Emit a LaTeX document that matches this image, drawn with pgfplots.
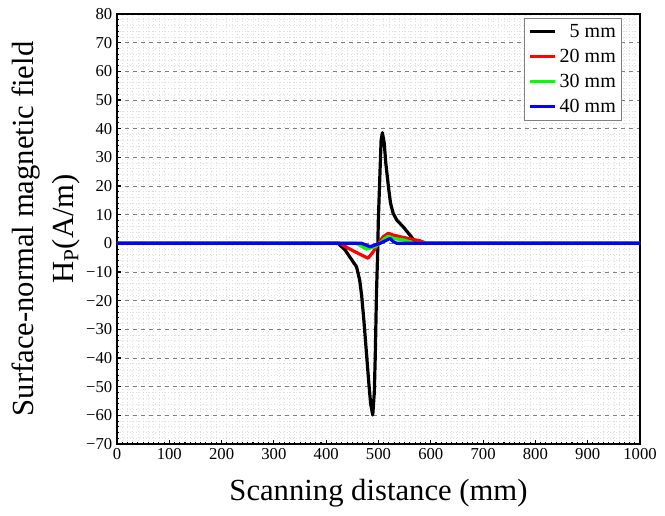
\documentclass[border=0pt]{standalone}
\usepackage{fontspec}
\setmainfont{Liberation Serif}
\usepackage{pgfplots}
\pgfplotsset{compat=1.18}
\begin{document}
\begin{tikzpicture}
\path[use as bounding box] (-87.75pt,-54pt) rectangle (411pt,333pt);
\begin{axis}[
  at={(0,0)}, anchor=south west,
  scale only axis, width=392.25pt, height=322.5pt,
  xmin=0, xmax=1000, ymin=-70, ymax=80,
  xtick={0,100,...,1000},
  ytick={-70,-60,...,80},
  yticklabels={−70,−60,−50,−40,−30,−20,−10,0,10,20,30,40,50,60,70,80},
  /pgf/number format/1000 sep={},
  minor x tick num=9, minor y tick num=4,
  tick align=inside, xtick pos=bottom, ytick pos=left,
  major tick length=3pt, minor tick length=1.8pt,
  every tick/.style={black, line width=0.8pt},
  axis line style={line width=1.3pt},
  ymajorgrids, xminorgrids, yminorgrids,
  major grid style={gray, dashed, line width=0.5pt},
  minor grid style={gray!25, dotted, line width=0.5pt},
  /pgf/number format/assume math mode=true,
  ticklabel style={font=\fontsize{12.5}{14}\selectfont},
  xlabel={Scanning distance (mm)},
  ylabel={Surface-normal magnetic field\\H\textsubscript{P}(A/m)},
  xlabel style={font=\fontsize{23}{26}\selectfont, at={(axis description cs:0.5,-0.114)}, anchor=center},
  ylabel style={font=\fontsize{23}{30}\selectfont, align=center, at={(axis description cs:-0.136,0.5)}, anchor=center},
  legend style={at={(0.966,0.991)}, anchor=north east, draw=gray, line width=0.6pt,
    font=\fontsize{15}{18}\selectfont, row sep=3.2pt, inner sep=2.5pt},
  legend cell align=right,
  legend image code/.code={\draw[#1] (0cm,0cm) -- (0.68cm,0cm);},
  every axis plot/.append style={line width=2.4pt, line join=round},
]
\addplot[black] coordinates {
(0,0) (423,0) (436,-2.3) (449,-5.8) (458,-8.2) (464,-12.8) (468,-18.6) (472,-26.8)
(476,-36) (481,-47.7) (485,-56) (489,-59.9) (492,-52) (494,-38) (496,-18.6) (498.5,-2.3)
(499.7,8.1) (503,25.6) (505,36) (507.5,38.6) (511,34.9) (514,27.9) (519,19.7) (523,14)
(528,10.5) (535,8.1) (547,5.8) (560,2.9) (570,0.6) (576,0) (1000,0)};
\addlegendentry{5 mm}
\addplot[red] coordinates {
(0,0) (426,0) (442,-1.7) (461,-3.5) (480,-5.2) (490,-2.9) (500,0) (509,2.3) (519,3.5)
(528,2.9) (541,2.3) (557,1.7) (579,0.9) (592,0) (1000,0)};
\addlegendentry{20 mm}
\addplot[green] coordinates {
(0,0) (458,0) (477,-2.0) (493,-1.2) (502,0) (512,1.7) (519,2.5) (528,1.7) (547,1.2)
(565,0.2) (567,0) (1000,0)};
\addlegendentry{30 mm}
\addplot[blue] coordinates {
(0,0) (468,0) (484,-1.2) (493,-0.6) (503,0) (522,1.7) (528,0.6) (535,0) (1000,0)};
\addlegendentry{40 mm}
\end{axis}
\end{tikzpicture}
\end{document}
